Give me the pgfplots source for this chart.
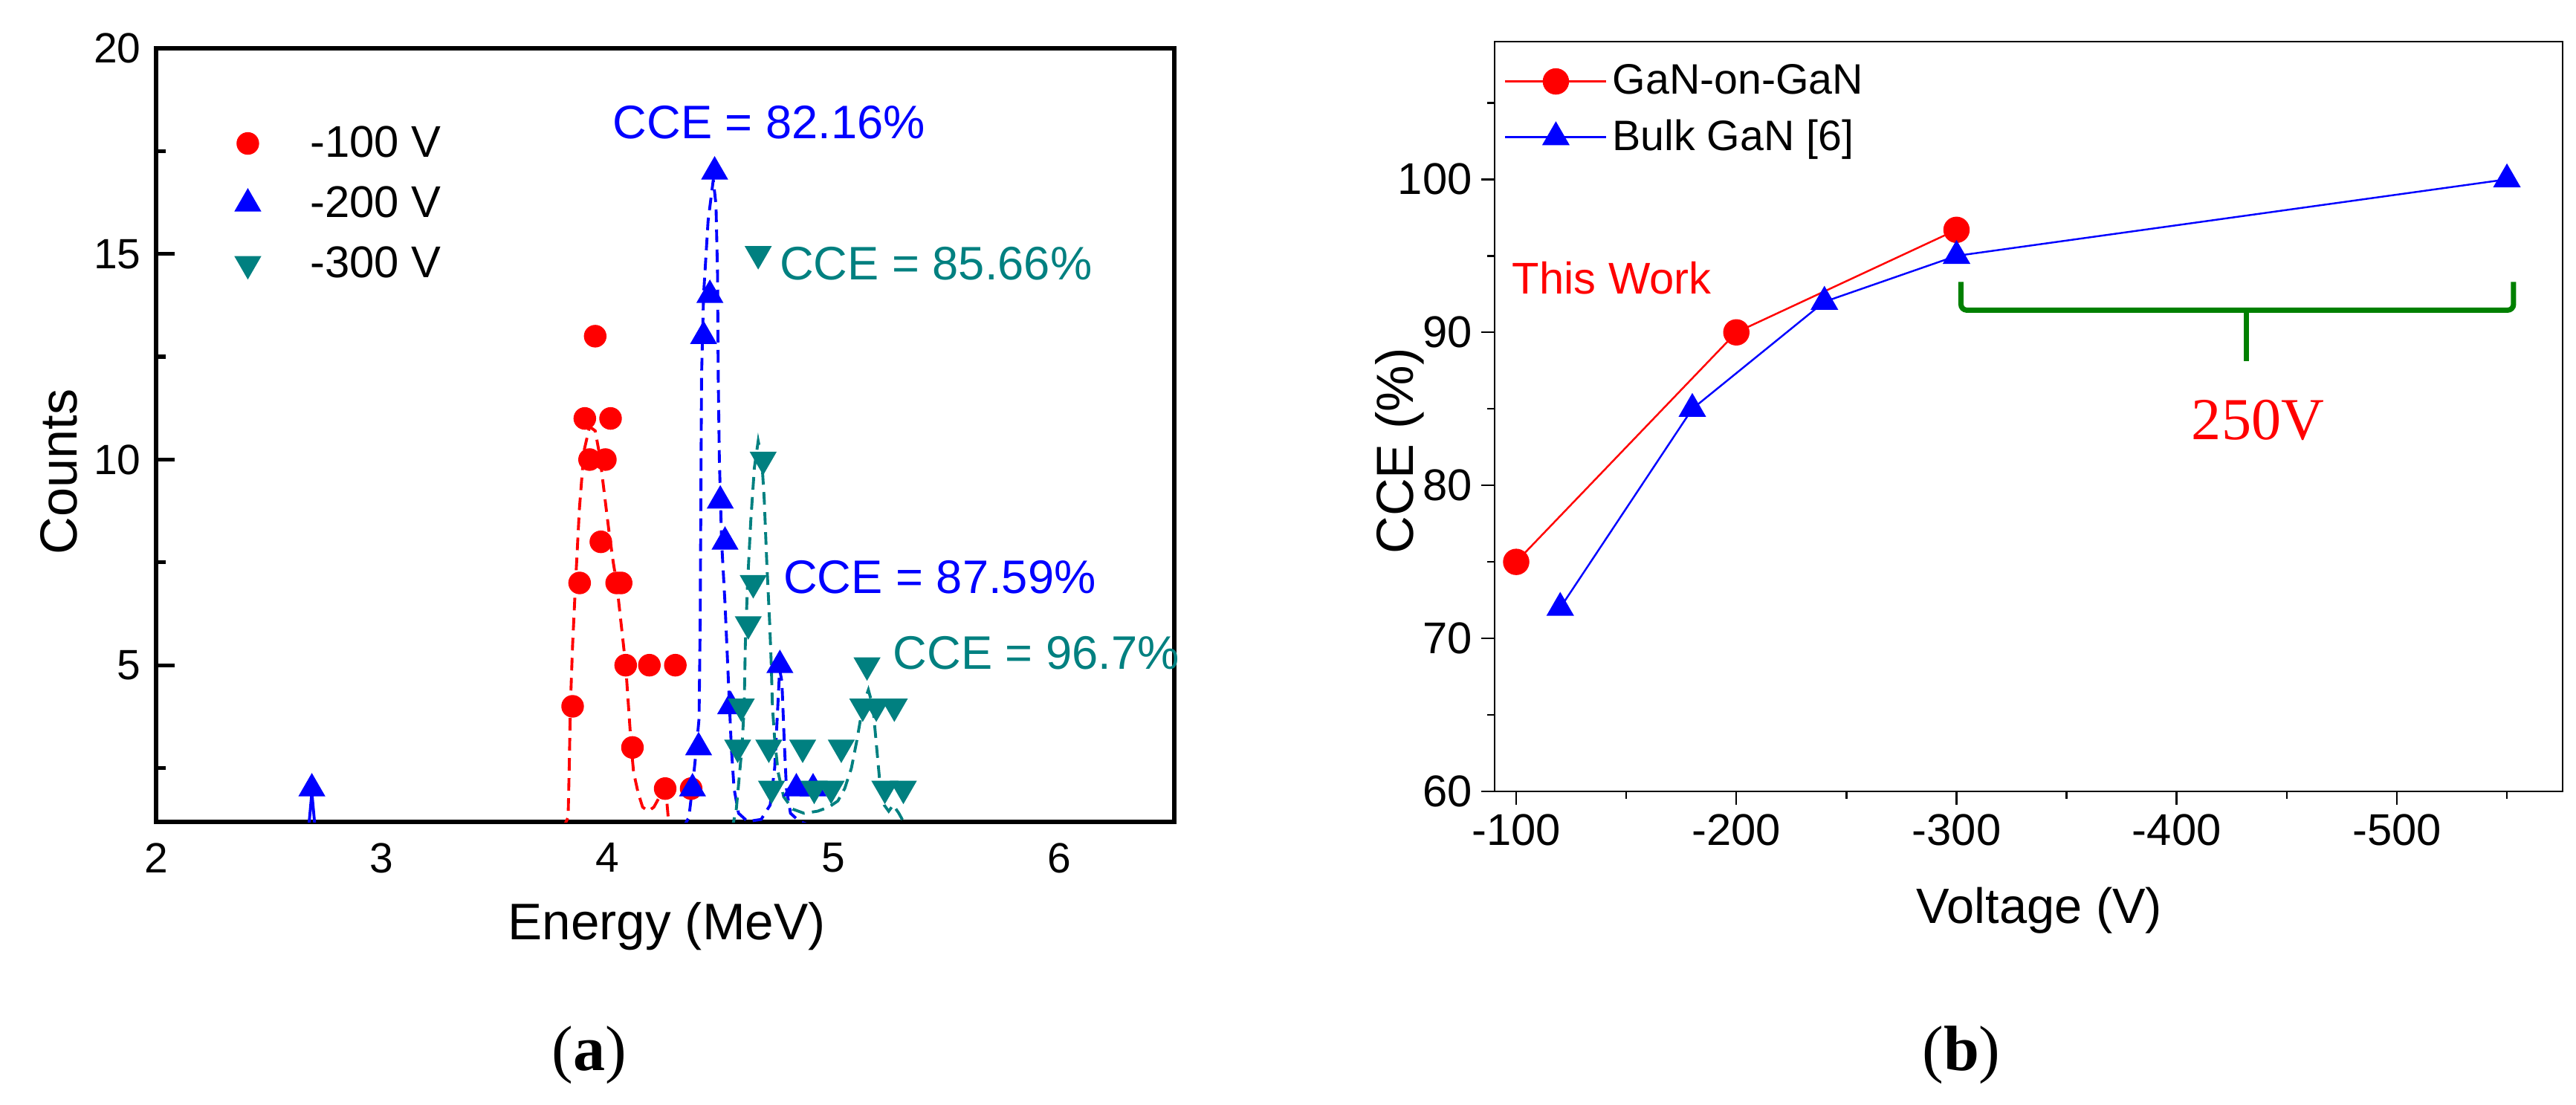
\documentclass[border=0pt]{standalone}
\usepackage{fontspec}
\setmainfont{Liberation Sans}
\newfontfamily\timesfont{Liberation Serif}
\usepackage{pgfplots}
\pgfplotsset{compat=1.18}
\definecolor{myred}{RGB}{255,0,0}
\definecolor{myblue}{RGB}{0,0,255}
\definecolor{myteal}{RGB}{0,128,128}
\definecolor{mygreen}{RGB}{0,128,0}
\newcommand{\fs}[1]{\fontsize{#1}{#1}\selectfont}
\begin{document}
\begin{tikzpicture}
\path[use as bounding box] (0,0) rectangle (34.66,-14.86);

% ---------------- panel (a) ----------------
\begin{axis}[
  at={(2.10cm,-11.06cm)}, anchor=south west,
  scale only axis, width=13.70cm, height=10.41cm,
  xmin=2, xmax=6.51, ymin=1.19, ymax=20,
  axis line style={line width=1.5pt},
  xtick={2,3,4,5,6}, xticklabels={2,3,4,5,6},
  ytick={5,10,15,20}, yticklabels={5,10,15,20},
  minor ytick={2.5,7.5,12.5,17.5},
  xtick pos=bottom, ytick pos=left,
  tick align=inside,
  major tick length=0.25cm, minor tick length=0.13cm,
  tick style={line width=1.5pt, black},
  xtick style={draw=none},
  ticklabel style={font=\fs{16.2}},
  yticklabel style={xshift=-0.08cm},
  xticklabel style={yshift=-0.16cm},
  clip marker paths=true,
  legend image code/.code={\path[draw=none,fill=none] (-0.2cm,0) -- (0.77cm,0); \draw[#1] plot coordinates {(0cm,0cm)};},
  legend cell align=left,
  legend style={draw=none, fill=none, at={(0.075,0.907)}, anchor=north west,
     font=\fs{17}, inner sep=0pt, row sep=0.2cm},
]
% fitted curves
\addplot[forget plot, myred, line width=1.1pt, dash pattern=on 0.17cm off 0.1cm] coordinates {
(3.80,1.0) (3.825,1.3) (3.83,2.5) (3.835,4) (3.845,5.5) (3.858,7) (3.875,8.8) (3.895,10.2)
(3.92,10.8) (3.945,10.7) (3.965,10.1) (3.985,9.2) (4.005,8.3) (4.025,7.5) (4.04,7) (4.06,6)
(4.08,5) (4.095,3.8) (4.105,3) (4.115,2.4) (4.135,1.9) (4.155,1.55) (4.18,1.45) (4.205,1.55)
(4.23,1.8) (4.25,2.0) (4.262,1.7) (4.27,1.2) (4.28,1.0)};
\addplot[forget plot, myblue, line width=1.1pt, dash pattern=on 0.17cm off 0.1cm] coordinates {
(4.33,1.0) (4.36,1.3) (4.375,2) (4.39,2.8) (4.405,3.7) (4.41,6) (4.413,9) (4.416,12) (4.425,14)
(4.445,15.8) (4.468,16.8) (4.48,16.2) (4.487,14.5) (4.49,12) (4.495,10) (4.505,8) (4.52,6.5)
(4.532,5) (4.54,4) (4.548,3) (4.56,2) (4.58,1.4) (4.62,1.2) (4.68,1.25) (4.72,1.6) (4.74,2.5)
(4.752,3.8) (4.762,4.9) (4.772,4.6) (4.782,3.2) (4.792,2) (4.81,1.4) (4.85,1.2) (4.9,1.1) (4.95,1.0)};
\addplot[forget plot, myblue, line width=1.1pt] coordinates {(2.675,1.0) (2.69,1.9) (2.705,1.0)};
\addplot[forget plot, myteal, line width=1.1pt, dash pattern=on 0.17cm off 0.1cm] coordinates {
(4.55,1.0) (4.57,1.5) (4.58,2.1) (4.595,3) (4.605,4) (4.61,5.5) (4.62,7) (4.634,8.5) (4.65,9.8)
(4.667,10.45) (4.683,10) (4.694,9) (4.705,7.5) (4.718,6) (4.725,5) (4.73,4) (4.74,3.2) (4.755,2.4)
(4.78,1.8) (4.82,1.5) (4.87,1.4) (4.93,1.45) (4.98,1.55) (5.02,1.7) (5.05,2.0) (5.08,2.5)
(5.105,3.2) (5.13,4) (5.155,4.4) (5.175,4.0) (5.19,3.1) (5.205,2.2) (5.225,1.6) (5.245,1.45)
(5.265,1.6) (5.29,1.4) (5.32,1.1) (5.34,1.0)};
% data
\addplot[only marks, mark=*, color=myred, mark size=0.145cm] coordinates {
(3.845,4) (3.876,7) (3.899,11) (3.92,10) (3.945,13) (3.97,8) (3.99,10) (4.013,11) (4.04,7) (4.06,7)
(4.08,5) (4.185,5) (4.30,5) (4.11,3) (4.255,2) (4.37,2)
(2.31,1) (2.35,1) (2.39,1) (2.71,1) (3.72,1) (3.76,1) (3.80,1) (4.17,1) (4.22,1) (4.42,1) (4.48,1)};
\addlegendentry{-100 V}
\addplot[only marks, mark=triangle*, color=myblue, mark size=0.196cm] coordinates {
(2.69,2) (4.376,2) (4.403,3) (4.425,13) (4.453,14) (4.474,17) (4.499,9) (4.52,8) (4.545,4)
(4.763,5) (4.836,2) (4.91,2)
(2.28,1) (2.43,1) (3.03,1) (3.37,1) (3.66,1) (4.33,1) (4.57,1) (4.61,1) (4.64,1) (4.68,1) (4.71,1)
(4.74,1) (4.80,1) (4.88,1) (4.94,1) (5.0,1) (5.05,1) (5.1,1) (5.36,1)};
\addlegendentry{-200 V}
\addplot[only marks, mark=triangle*, mark options={rotate=180}, color=myteal, mark size=0.196cm] coordinates {
(4.576,3) (4.592,4) (4.623,6) (4.645,7) (4.667,15) (4.689,10) (4.714,3) (4.726,2) (4.864,3)
(4.915,2) (4.99,2) (5.035,3) (5.13,4) (5.149,5) (5.19,4) (5.27,4) (5.228,2) (5.31,2)};
\addlegendentry{-300 V}
\end{axis}

% ---------------- panel (b) ----------------
\begin{axis}[
  at={(20.11cm,-10.65cm)}, anchor=south west,
  scale only axis, width=14.37cm, height=10.09cm,
  x dir=reverse, xmin=-575.3, xmax=-90.2, ymin=60, ymax=109,
  xtick={-100,-200,-300,-400,-500}, xticklabels={-100,-200,-300,-400,-500},
  minor xtick={-150,-250,-350,-450,-550},
  ytick={60,70,80,90,100}, yticklabels={60,70,80,90,100},
  minor ytick={65,75,85,95,105},
  tick align=outside, xtick pos=bottom, ytick pos=left,
  major tick length=0.18cm, minor tick length=0.10cm,
  tick style={line width=0.7pt, black},
  axis line style={line width=0.7pt},
  ticklabel style={font=\fs{17}},
  legend image code/.code={\draw[mark repeat=2,mark phase=2,#1] plot coordinates {(0cm,0cm) (0.68cm,0cm) (1.36cm,0cm)};},
  legend cell align=left,
  legend style={draw=none, fill=none, at={(0.0087,0.977)}, anchor=north west,
     font=\fs{16.3}, inner sep=0pt, row sep=0.15cm},
]
\addplot[color=myred, line width=0.7pt, mark=*, mark size=0.165cm] coordinates {(-100,75) (-200,90) (-300,96.7)};
\addlegendentry{GaN-on-GaN}
\addplot[color=myblue, line width=0.7pt, mark=triangle*, mark size=0.19cm] coordinates {(-120,72) (-180,85) (-240,92) (-300,95) (-550,100)};
\addlegendentry{Bulk GaN [6]}
\draw[mygreen, line width=2pt, rounded corners=0.08cm] (axis cs:-302,93.3) -- (axis cs:-302,91.45) -- (axis cs:-553,91.45) -- (axis cs:-553,93.3);
\draw[mygreen, line width=2pt] (axis cs:-431.8,91.45) -- (axis cs:-431.8,88.1);
\end{axis}

% ---------------- texts ----------------
\node[anchor=base west, inner sep=0pt, text=myblue, font=\fs{18}] at (8.24,-1.86) {CCE = 82.16\%};
\node[anchor=base west, inner sep=0pt, text=myteal, font=\fs{18}] at (10.485,-3.76) {CCE = 85.66\%};
\node[anchor=base west, inner sep=0pt, text=myblue, font=\fs{18}] at (10.536,-7.985) {CCE = 87.59\%};
\node[anchor=base west, inner sep=0pt, text=myteal, font=\fs{18}] at (12.01,-9.005) {CCE = 96.7\%};
\node[anchor=base, inner sep=0pt, font=\fs{19.7}] at (8.97,-12.64) {Energy (MeV)};
\node[anchor=base, inner sep=0pt, rotate=90, font=\fs{20}] at (1.03,-6.35) {Counts};
\node[anchor=base, inner sep=0pt, rotate=90, font=\fs{20}] at (19.01,-6.07) {CCE (\%)};
\node[anchor=base, inner sep=0pt, font=\fs{19}] at (27.44,-12.42) {Voltage (V)};
\node[anchor=base west, inner sep=0pt, text=myred, font=\fs{17}] at (20.34,-3.954) {This Work};
\node[anchor=base, inner sep=0pt, text=myred, font=\timesfont\fs{22.8}] at (30.38,-5.91) {250V};
\node[anchor=base, inner sep=0pt, font=\timesfont\fs{24.5}] at (7.93,-14.40) {(\textbf{a})};
\node[anchor=base, inner sep=0pt, font=\timesfont\fs{24.5}] at (26.39,-14.40) {(\textbf{b})};
\end{tikzpicture}
\end{document}
